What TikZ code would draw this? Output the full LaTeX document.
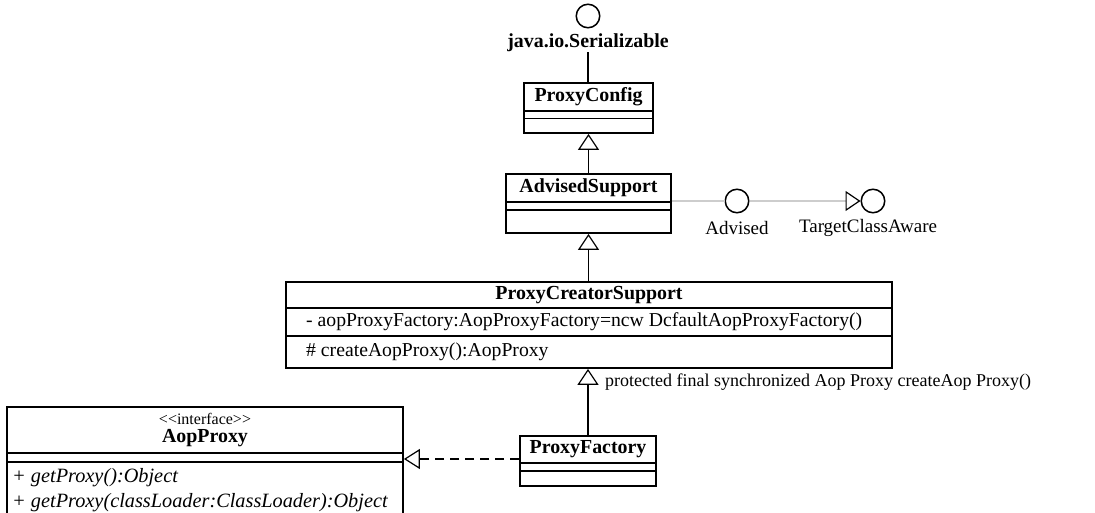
\documentclass[tikz,border=0pt]{standalone}
\usepackage{fontspec}
\setmainfont{Liberation Serif}
\usetikzlibrary{arrows.meta}

\begin{document}
\begin{tikzpicture}[x=1pt,y=-1pt,
  cls/.style={draw, line width=1.8pt, inner sep=0pt},
  sep/.style={line width=1.1pt},
  title/.style={inner sep=0pt, font=\fontsize{19.9}{22}\selectfont\bfseries},
  member/.style={inner sep=0pt, anchor=west, font=\fontsize{19.7}{22}\selectfont},
  opmember/.style={inner sep=0pt, anchor=west, font=\fontsize{20.3}{22}\selectfont\itshape},
  iface/.style={circle, draw, line width=1.5pt, minimum size=23.5pt, inner sep=0pt},
  ifacelabel/.style={inner sep=0pt, font=\fontsize{19}{22}\selectfont},
  gen/.style={line width=1.3pt, -{Triangle[open, length=16pt, width=21pt, line width=1.2pt]}},
  realize/.style={line width=1.3pt, dash pattern=on 9pt off 6pt,
    -{Triangle[open, length=16pt, width=20pt, line width=1.2pt]}},
  lolli/.style={line width=1.6pt, draw={rgb,255:red,205;green,205;blue,205}},
]
\useasboundingbox (0,0) rectangle (1095,513);
\clip (0,0) rectangle (1095,513);

% java.io.Serializable interface
\node[iface] (seri) at (588,16) {};
\node[title] (serl) at (588,43) {java.io.Serializable};

% ProxyConfig
\node[cls, minimum width=129pt, minimum height=50pt] (pc) at (588.5,108) {};
\node[title] (pct) at (588.5,97) {ProxyConfig};
\draw[sep] (524,111) -- (653,111);
\draw[sep] (524,118.5) -- (653,118.5);

% AdvisedSupport
\node[cls, minimum width=165pt, minimum height=59pt] (as) at (588.5,203.5) {};
\node[title] (ast) at (588.5,188) {AdvisedSupport};
\draw[sep] (506,202) -- (671,202);
\draw[sep] (506,210) -- (671,210);

% Advised / TargetClassAware interfaces
\node[iface] (adv) at (737,201) {};
\node[ifacelabel] (advl) at (737,228) {Advised};
\node[iface] (tca) at (873,201) {};
\node[ifacelabel] (tcal) at (868,228) {TargetClassAware};

% ProxyCreatorSupport
\node[cls, minimum width=606pt, minimum height=86pt] (pcs) at (589,325) {};
\node[title] (pcst) at (589,295) {ProxyCreatorSupport};
\draw[sep] (286,308) -- (892,308);
\draw[sep] (286,336) -- (892,336);
\node[member] (pcsa) at (306,322) {- aopProxyFactory:AopProxyFactory=ncw DcfaultAopProxyFactory()};
\node[member] (pcsm) at (306,352) {\# createAopProxy():AopProxy};

% ProxyFactory
\node[cls, minimum width=136pt, minimum height=50pt] (pf) at (588,461) {};
\node[title] (pft) at (588,449) {ProxyFactory};
\draw[sep] (520,463) -- (656,463);
\draw[sep] (520,471) -- (656,471);

\node[inner sep=0pt, anchor=west, font=\fontsize{18}{22}\selectfont] (note) at (605,382)
  {protected final synchronized Aop Proxy createAop Proxy()};

% AopProxy interface
\node[cls, minimum width=396pt, minimum height=128pt] (aop) at (205,471) {};
\node[inner sep=0pt, font=\fontsize{16}{18}\selectfont] (aops) at (205,418.5) {<{}<interface>{}>};
\node[title] (aopt) at (205,438) {AopProxy};
\draw[sep] (7,453) -- (403,453);
\draw[sep] (7,462) -- (403,462);
\node[opmember] (aopm1) at (12,478) {+ getProxy():Object};
\node[opmember] (aopm2) at (12,503) {+ getProxy(classLoader:ClassLoader):Object};

% relations
\draw[line width=1.3pt] (serl.south) -- (serl.south |- pc.north);
\draw[gen] (as.north) -- (pc.south);
\draw[gen] (as.south |- pcs.north) -- (as.south);
\draw[gen] (pf.north) -- (pf.north |- pcs.south);
\draw[realize] ([yshift=2pt]pf.west) -- ([yshift=2pt]pf.west -| aop.east);
\draw[lolli] (as.east |- adv.west) -- (adv.west);
\draw[lolli, -{Triangle[open, length=15pt, width=20pt, line width=1.2pt, color=black]}] (adv.east) -- (tca.west);
\end{tikzpicture}
\end{document}
